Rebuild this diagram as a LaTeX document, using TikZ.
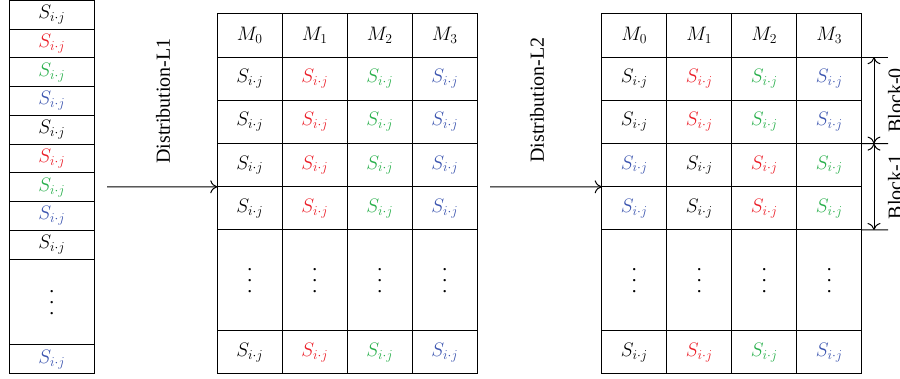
\RequirePackage{fix-cm}
\documentclass[tikz,border=0pt]{standalone}
\usepackage{fontspec}
\setmainfont{Liberation Serif}
\usetikzlibrary{arrows.meta}
\definecolor{cred}{RGB}{235,30,40}
\definecolor{cgreen}{RGB}{40,175,75}
\definecolor{cblue}{RGB}{60,85,175}
\newcommand{\myvdots}{\vbox{\baselineskip=11pt\lineskiplimit=0pt\hbox{.}\hbox{.}\hbox{.}}}
\begin{document}
\begin{tikzpicture}[x=1pt,y=-1pt, font=\fontsize{19.5}{23}\selectfont, line width=1pt,
  cell/.style={draw, inner sep=0pt, outer sep=0pt, anchor=north west, minimum width=65pt},
  lcell/.style={draw, inner sep=0pt, outer sep=0pt, anchor=north west, minimum width=85pt},
  conn/.style={-{To[length=7pt,width=13pt]}},
  dimline/.style={{To[length=7pt,width=13pt]}-{To[length=7pt,width=13pt]}},
  lbl/.style={rotate=90, inner sep=0pt, font=\fontsize{20}{24}\selectfont}]
\useasboundingbox (0,0) rectangle (900,379);
% left column
\foreach \i/\col in {0/black,1/cred,2/cgreen,3/cblue,4/black,5/cred,6/cgreen,7/cblue,8/black}
  \node[lcell, minimum height=28.75pt, text=\col] (l-\i) at (9.3,{0.5+28.75*\i}) {$S_{i\cdot j}$};
\node[lcell, minimum height=85.75pt] (l-9) at (9.3,259.25) {\myvdots};
\node[lcell, minimum height=29pt, text=cblue] (l-10) at (9.3,345) {$S_{i\cdot j}$};
% middle table
\foreach \c/\col in {0/black,1/cred,2/cgreen,3/cblue}{
  \node[cell, minimum height=43.2pt] (m-\c-0) at ({217.3+65*\c},14) {$M_{\c}$};
  \foreach \r in {1,...,4}
    \node[cell, minimum height=43.2pt, text=\col] (m-\c-\r) at ({217.3+65*\c},{14+43.2*\r}) {$S_{i\cdot j}$};
  \node[cell, minimum height=101pt] (m-\c-5) at ({217.3+65*\c},230) {\myvdots};
  \node[cell, minimum height=43pt, text=\col] (m-\c-6) at ({217.3+65*\c},331) {$S_{i\cdot j}$};
}
% right table
\foreach \c/\col/\alt in {0/black/cblue,1/cred/black,2/cgreen/cred,3/cblue/cgreen}{
  \node[cell, minimum height=43.2pt] (r-\c-0) at ({601.7+65*\c},14) {$M_{\c}$};
  \foreach \r in {1,2}
    \node[cell, minimum height=43.2pt, text=\col] (r-\c-\r) at ({601.7+65*\c},{14+43.2*\r}) {$S_{i\cdot j}$};
  \foreach \r in {3,4}
    \node[cell, minimum height=43.2pt, text=\alt] (r-\c-\r) at ({601.7+65*\c},{14+43.2*\r}) {$S_{i\cdot j}$};
  \node[cell, minimum height=101pt] (r-\c-5) at ({601.7+65*\c},230) {\myvdots};
  \node[cell, minimum height=43pt, text=\col] (r-\c-6) at ({601.7+65*\c},331) {$S_{i\cdot j}$};
}
% distribution arrows
\coordinate (a1) at (107,186.8);
\coordinate (a2) at (490,186.8);
\draw[conn] (a1) -- (m-0-3.south west);
\draw[conn] (a2) -- (r-0-3.south west);
\node[lbl] (d1) at (163,101) {Distribution-L1};
\node[lbl] (d2) at (537,100) {Distribution-L2};
% block dimensions
\coordinate (e0) at (888,57.2);
\coordinate (e1) at (888,143.6);
\coordinate (e2) at (888,230);
\coordinate (b0) at (874,57.2);
\coordinate (b1) at (874,143.6);
\coordinate (b2) at (874,230);
\draw (r-3-1.north east) -- (e0);
\draw (r-3-2.south east) -- (e1);
\draw (r-3-4.south east) -- (e2);
\draw[dimline] (b0) -- (b1);
\draw[dimline] (b1) -- (b2);
\node[lbl, anchor=north] (blk0) at (887.5,100.4) {Block-0};
\node[lbl, anchor=north] (blk1) at (887.5,186.8) {Block-1};
\end{tikzpicture}
\end{document}
